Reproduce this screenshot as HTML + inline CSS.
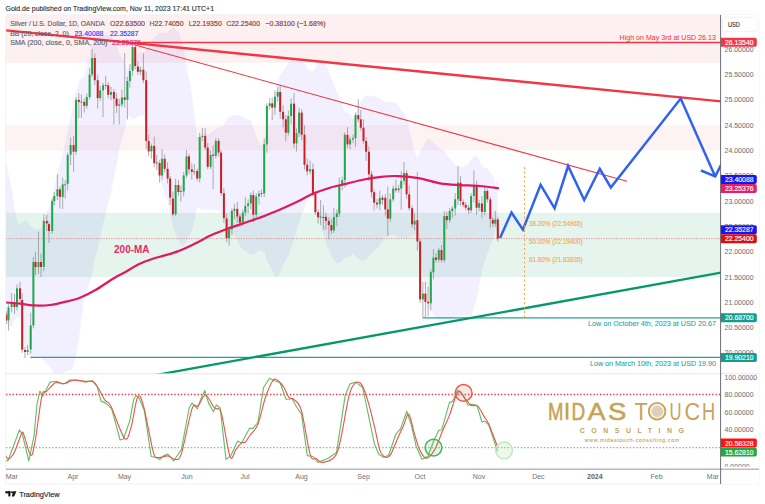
<!DOCTYPE html>
<html><head><meta charset="utf-8"><style>
html,body{margin:0;padding:0;background:#fff;width:765px;height:504px;overflow:hidden}
svg{position:absolute;left:0;top:0;font-family:"Liberation Sans",sans-serif}
</style></head><body>
<svg width="765" height="504" viewBox="0 0 765 504">
<defs><clipPath id="main"><rect x="6" y="15" width="715" height="359"/></clipPath>
<clipPath id="ind"><rect x="6" y="373.5" width="715" height="95"/></clipPath></defs>
<text x="5.5" y="11.3" font-size="7.8" fill="#2a2d35" stroke="#3a3d45" stroke-width="0.15" textLength="208.5" lengthAdjust="spacingAndGlyphs">Gold.de published on TradingView.com, Nov 11, 2023 17:41 UTC+1</text>
<g clip-path="url(#main)">
<rect x="6" y="15" width="715" height="47.8" fill="#fdf0f0"/>
<rect x="6" y="125.2" width="715" height="25.3" fill="#fef3f3"/>
<rect x="6" y="212.8" width="715" height="64.2" fill="#e5f4ed"/>
<polygon points="4,164.1 6.5,164.1 8.5,174.2 11.6,187.7 14.5,208.5 17.0,220.1 20.0,225.0 22.2,222.1 25.0,220.2 27.6,222.1 30.7,226.6 33.4,228.2 35.5,229.3 38.5,229.3 41.0,228.7 43.8,220.2 46.8,212.3 49.0,207.5 52.2,197.1 54.3,186.3 57.4,173.7 59.9,164.1 62.7,153.2 65.2,143.6 67.7,130.1 70.6,115.9 73.6,105.4 76.0,91.1 78.8,82.4 81.4,78.5 84.3,76.3 86.8,66.9 89.6,56.2 92.1,44.4 94.8,41.5 97.7,38.2 100.2,35.8 103.0,35.9 105.7,34.2 108.2,34.7 111.0,35.6 113.9,40.3 116.6,45.6 119.2,53.9 121.9,57.9 124.7,61.7 127.4,68.9 129.9,66.0 132.6,57.3 135.2,54.7 137.9,53.6 140.5,52.1 143.4,52.6 146.2,50.2 148.7,45.0 151.4,41.7 154.2,37.3 156.7,35.2 159.6,32.9 162.1,32.8 164.7,32.8 167.6,32.2 170.1,30.1 172.9,27.5 175.6,29.8 178.4,32.2 180.9,38.3 183.7,47.9 186.5,64.5 189.0,78.9 191.8,94.3 194.3,114.3 197.2,137.3 199.7,136.4 202.4,133.3 205.2,133.6 207.7,133.9 210.6,133.0 213.1,131.5 215.8,128.8 218.6,127.3 221.1,126.9 223.9,124.4 226.6,120.2 229.1,116.8 231.9,115.9 234.4,115.3 237.3,114.8 239.9,116.0 242.8,117.0 245.3,118.2 248.1,119.7 250.8,120.5 253.3,127.6 256.2,135.9 259.0,142.2 261.5,145.2 264.2,142.8 266.9,129.4 269.7,119.8 272.2,110.3 274.9,95.7 277.7,81.9 280.2,75.2 283.1,70.6 285.8,67.7 288.3,63.2 291.1,58.4 294.0,59.9 296.5,60.5 299.1,59.4 301.7,61.2 304.5,63.2 307.2,68.3 310.1,71.2 312.9,71.2 315.4,67.9 318.1,62.1 320.6,61.6 323.4,63.1 325.9,65.4 328.8,70.8 331.4,78.5 333.9,85.1 336.8,91.7 339.3,96.8 342.2,105.3 344.8,112.2 347.5,112.4 350.1,113.5 353.0,119.2 355.5,114.8 358.3,107.3 360.8,101.4 363.5,98.2 366.1,95.5 368.9,95.2 371.6,95.9 374.1,96.4 377.0,97.1 379.8,98.2 382.5,99.9 385.3,101.9 387.8,101.7 390.3,102.6 393.2,102.6 395.9,102.6 398.7,106.8 401.2,109.8 404.0,113.4 406.6,118.2 409.2,129.1 412.1,140.1 414.6,151.5 417.4,158.7 420.1,151.1 422.9,146.8 425.4,141.9 428.1,138.4 430.8,139.5 433.4,142.3 436.0,145.3 438.8,147.6 441.5,149.2 444.3,151.1 446.8,155.2 449.7,158.1 452.3,161.2 455.2,164.4 458.0,166.5 460.5,167.6 463.2,167.1 465.7,165.2 468.6,164.0 471.1,159.3 473.9,155.8 476.6,156.3 479.1,159.4 481.9,166.6 484.8,167.6 487.3,168.8 490.3,172.8 492.8,175.8 495.3,183.6 497.8,180.8 497.8,233.2 495.3,228.1 492.8,240.0 490.3,245.7 487.3,253.8 484.8,260.8 481.9,269.9 479.1,286.3 476.6,299.2 473.9,308.3 471.1,316.2 468.6,316.1 465.7,315.9 463.2,315.6 460.5,315.5 458.0,315.9 455.2,317.1 452.3,318.5 449.7,319.6 446.8,320.4 444.3,321.3 441.5,321.6 438.8,319.0 436.0,317.2 433.4,314.2 430.8,311.1 428.1,305.4 425.4,291.8 422.9,276.0 420.1,259.8 417.4,237.4 414.6,234.5 412.1,236.6 409.2,237.1 406.6,238.7 404.0,237.9 401.2,238.1 398.7,237.5 395.9,236.3 393.2,235.3 390.3,235.0 387.8,237.2 385.3,237.0 382.5,241.1 379.8,245.2 377.0,248.7 374.1,250.7 371.6,252.7 368.9,255.8 366.1,259.3 363.5,260.8 360.8,260.4 358.3,259.0 355.5,256.0 353.0,253.5 350.1,256.7 347.5,257.2 344.8,257.3 342.2,261.1 339.3,263.2 336.8,263.0 333.9,260.2 331.4,256.2 328.8,250.1 325.9,242.6 323.4,233.6 320.6,223.7 318.1,212.1 315.4,198.9 312.9,193.8 310.1,193.7 307.2,199.3 304.5,208.8 301.7,213.8 299.1,222.5 296.5,230.7 294.0,239.3 291.1,248.6 288.3,255.2 285.8,260.0 283.1,264.9 280.2,271.2 277.7,277.2 274.9,276.1 272.2,271.1 269.7,266.1 266.9,260.2 264.2,251.9 261.5,250.5 259.0,250.9 256.2,252.6 253.3,254.8 250.8,254.1 248.1,253.3 245.3,251.5 242.8,249.3 239.9,246.0 237.3,240.6 234.4,236.0 231.9,233.6 229.1,230.9 226.6,223.0 223.9,216.4 221.1,211.9 218.6,210.0 215.8,210.1 213.1,209.2 210.6,209.7 207.7,209.5 205.2,209.5 202.4,209.6 199.7,208.1 197.2,207.5 194.3,220.7 191.8,230.5 189.0,235.9 186.5,240.0 183.7,245.7 180.9,244.8 178.4,239.9 175.6,233.1 172.9,226.7 170.1,213.1 167.6,201.7 164.7,193.2 162.1,185.5 159.6,179.1 156.7,167.6 154.2,157.8 151.4,146.2 148.7,138.1 146.2,125.7 143.4,115.1 140.5,115.0 137.9,116.2 135.2,118.6 132.6,119.5 129.9,116.3 127.4,116.2 124.7,130.5 121.9,138.8 119.2,148.6 116.6,164.9 113.9,178.1 111.0,192.6 108.2,203.2 105.7,213.9 103.0,223.7 100.2,238.4 97.7,249.2 94.8,258.3 92.1,274.0 89.6,282.7 86.8,291.1 84.3,298.3 81.4,318.0 78.8,338.9 76.0,355.3 73.6,366.0 70.6,370.2 67.7,370.4 65.2,372.0 62.7,374.3 59.9,375.7 57.4,378.4 54.3,374.9 52.2,370.4 49.0,365.6 46.8,363.9 43.8,360.8 41.0,356.6 38.5,356.5 35.5,356.5 33.4,356.9 30.7,357.5 27.6,354.3 25.0,345.4 22.2,333.2 20.0,319.2 17.0,317.3 14.5,320.3 11.6,326.2 8.5,326.2 6.5,322.4 4,322.4" fill="#6a5cff" fill-opacity="0.09"/>
<line x1="6" y1="238.6" x2="721" y2="238.6" stroke="#e57a7a" stroke-width="0.8" stroke-dasharray="1.2,1.3"/>
<line x1="422.5" y1="317.8" x2="721" y2="317.8" stroke="#22a39a" stroke-width="1.3"/>
<line x1="30.4" y1="357.3" x2="721" y2="357.3" stroke="#22a39a" stroke-width="1.3"/>
<line x1="135" y1="42.5" x2="721" y2="42.5" stroke="#f23645" stroke-width="1.3"/>
<line x1="6.5" y1="311.5" x2="6.5" y2="323.9" stroke="#8a8a8a" stroke-width="0.7"/>
<rect x="5.5" y="314.4" width="2" height="6.0" fill="#cc1d22"/>
<line x1="8.5" y1="304.4" x2="8.5" y2="330.6" stroke="#8a8a8a" stroke-width="0.7"/>
<rect x="7.5" y="307.6" width="2" height="12.8" fill="#1ea84a"/>
<line x1="11.6" y1="293.0" x2="11.6" y2="312.2" stroke="#8a8a8a" stroke-width="0.7"/>
<rect x="10.6" y="302.5" width="2" height="4.5" fill="#1ea84a"/>
<line x1="14.5" y1="293.8" x2="14.5" y2="314.1" stroke="#8a8a8a" stroke-width="0.7"/>
<rect x="13.5" y="302.5" width="2" height="4.5" fill="#cc1d22"/>
<line x1="17.0" y1="284.5" x2="17.0" y2="310.4" stroke="#8a8a8a" stroke-width="0.7"/>
<rect x="16.0" y="288.3" width="2" height="18.7" fill="#1ea84a"/>
<line x1="20.0" y1="281.8" x2="20.0" y2="303.7" stroke="#8a8a8a" stroke-width="0.7"/>
<rect x="19.0" y="288.3" width="2" height="10.7" fill="#cc1d22"/>
<line x1="22.2" y1="293.2" x2="22.2" y2="352.8" stroke="#8a8a8a" stroke-width="0.7"/>
<rect x="21.2" y="300.0" width="2" height="49.7" fill="#cc1d22"/>
<line x1="25.0" y1="346.7" x2="25.0" y2="358.0" stroke="#8a8a8a" stroke-width="0.7"/>
<rect x="24.0" y="350.0" width="2" height="2.0" fill="#cc1d22"/>
<line x1="27.6" y1="345.0" x2="27.6" y2="355.2" stroke="#8a8a8a" stroke-width="0.7"/>
<rect x="26.6" y="350.0" width="2" height="2.0" fill="#1ea84a"/>
<line x1="30.7" y1="312.7" x2="30.7" y2="353.6" stroke="#8a8a8a" stroke-width="0.7"/>
<rect x="29.7" y="325.5" width="2" height="23.9" fill="#1ea84a"/>
<line x1="33.4" y1="256.9" x2="33.4" y2="328.4" stroke="#8a8a8a" stroke-width="0.7"/>
<rect x="32.4" y="262.0" width="2" height="63.5" fill="#1ea84a"/>
<line x1="35.5" y1="252.0" x2="35.5" y2="275.0" stroke="#8a8a8a" stroke-width="0.7"/>
<rect x="34.5" y="262.0" width="2" height="5.0" fill="#cc1d22"/>
<line x1="38.5" y1="231.8" x2="38.5" y2="274.0" stroke="#8a8a8a" stroke-width="0.7"/>
<rect x="37.5" y="262.0" width="2" height="5.0" fill="#1ea84a"/>
<line x1="41.0" y1="253.4" x2="41.0" y2="277.0" stroke="#8a8a8a" stroke-width="0.7"/>
<rect x="40.0" y="262.0" width="2" height="5.0" fill="#cc1d22"/>
<line x1="43.8" y1="214.3" x2="43.8" y2="271.4" stroke="#8a8a8a" stroke-width="0.7"/>
<rect x="42.8" y="220.9" width="2" height="46.0" fill="#1ea84a"/>
<line x1="46.8" y1="215.0" x2="46.8" y2="231.0" stroke="#8a8a8a" stroke-width="0.7"/>
<rect x="45.8" y="221.0" width="2" height="2.4" fill="#cc1d22"/>
<line x1="49.0" y1="221.6" x2="49.0" y2="243.0" stroke="#8a8a8a" stroke-width="0.7"/>
<rect x="48.0" y="224.2" width="2" height="6.8" fill="#cc1d22"/>
<line x1="52.2" y1="198.3" x2="52.2" y2="233.6" stroke="#8a8a8a" stroke-width="0.7"/>
<rect x="51.2" y="200.8" width="2" height="30.2" fill="#1ea84a"/>
<line x1="54.3" y1="192.0" x2="54.3" y2="205.4" stroke="#8a8a8a" stroke-width="0.7"/>
<rect x="53.3" y="196.0" width="2" height="5.0" fill="#1ea84a"/>
<line x1="57.4" y1="174.0" x2="57.4" y2="200.2" stroke="#8a8a8a" stroke-width="0.7"/>
<rect x="56.4" y="189.3" width="2" height="6.7" fill="#1ea84a"/>
<line x1="59.9" y1="186.5" x2="59.9" y2="208.6" stroke="#8a8a8a" stroke-width="0.7"/>
<rect x="58.9" y="189.3" width="2" height="7.6" fill="#cc1d22"/>
<line x1="62.7" y1="177.5" x2="62.7" y2="209.0" stroke="#8a8a8a" stroke-width="0.7"/>
<rect x="61.7" y="184.3" width="2" height="12.6" fill="#1ea84a"/>
<line x1="65.2" y1="180.2" x2="65.2" y2="198.5" stroke="#8a8a8a" stroke-width="0.7"/>
<rect x="64.2" y="184.3" width="2" height="1.0" fill="#1ea84a"/>
<line x1="67.7" y1="152.5" x2="67.7" y2="190.5" stroke="#8a8a8a" stroke-width="0.7"/>
<rect x="66.7" y="155.0" width="2" height="28.8" fill="#1ea84a"/>
<line x1="70.6" y1="137.5" x2="70.6" y2="165.0" stroke="#8a8a8a" stroke-width="0.7"/>
<rect x="69.6" y="145.0" width="2" height="9.7" fill="#1ea84a"/>
<line x1="73.6" y1="136.1" x2="73.6" y2="171.8" stroke="#8a8a8a" stroke-width="0.7"/>
<rect x="72.6" y="145.0" width="2" height="6.7" fill="#cc1d22"/>
<line x1="76.0" y1="97.1" x2="76.0" y2="154.8" stroke="#8a8a8a" stroke-width="0.7"/>
<rect x="75.0" y="99.8" width="2" height="51.9" fill="#1ea84a"/>
<line x1="78.8" y1="93.0" x2="78.8" y2="118.0" stroke="#8a8a8a" stroke-width="0.7"/>
<rect x="77.8" y="99.8" width="2" height="2.2" fill="#cc1d22"/>
<line x1="81.4" y1="94.5" x2="81.4" y2="117.9" stroke="#8a8a8a" stroke-width="0.7"/>
<rect x="80.4" y="101.5" width="2" height="1.0" fill="#1ea84a"/>
<line x1="84.3" y1="98.5" x2="84.3" y2="112.6" stroke="#8a8a8a" stroke-width="0.7"/>
<rect x="83.3" y="102.0" width="2" height="3.8" fill="#cc1d22"/>
<line x1="86.8" y1="93.4" x2="86.8" y2="108.6" stroke="#8a8a8a" stroke-width="0.7"/>
<rect x="85.8" y="97.0" width="2" height="8.8" fill="#1ea84a"/>
<line x1="89.6" y1="67.8" x2="89.6" y2="99.6" stroke="#8a8a8a" stroke-width="0.7"/>
<rect x="88.6" y="74.7" width="2" height="22.3" fill="#1ea84a"/>
<line x1="92.1" y1="48.9" x2="92.1" y2="76.9" stroke="#8a8a8a" stroke-width="0.7"/>
<rect x="91.1" y="58.0" width="2" height="16.4" fill="#1ea84a"/>
<line x1="94.8" y1="53.6" x2="94.8" y2="85.2" stroke="#8a8a8a" stroke-width="0.7"/>
<rect x="93.8" y="58.0" width="2" height="22.2" fill="#cc1d22"/>
<line x1="97.7" y1="74.7" x2="97.7" y2="108.7" stroke="#8a8a8a" stroke-width="0.7"/>
<rect x="96.7" y="80.2" width="2" height="17.9" fill="#cc1d22"/>
<line x1="100.2" y1="86.1" x2="100.2" y2="100.9" stroke="#8a8a8a" stroke-width="0.7"/>
<rect x="99.2" y="90.3" width="2" height="7.8" fill="#1ea84a"/>
<line x1="103.0" y1="82.6" x2="103.0" y2="117.0" stroke="#8a8a8a" stroke-width="0.7"/>
<rect x="102.0" y="85.3" width="2" height="5.0" fill="#1ea84a"/>
<line x1="105.7" y1="75.7" x2="105.7" y2="89.4" stroke="#8a8a8a" stroke-width="0.7"/>
<rect x="104.7" y="85.0" width="2" height="1.0" fill="#1ea84a"/>
<line x1="108.2" y1="82.3" x2="108.2" y2="98.3" stroke="#8a8a8a" stroke-width="0.7"/>
<rect x="107.2" y="85.3" width="2" height="9.5" fill="#cc1d22"/>
<line x1="111.0" y1="86.6" x2="111.0" y2="100.2" stroke="#8a8a8a" stroke-width="0.7"/>
<rect x="110.0" y="92.0" width="2" height="2.8" fill="#1ea84a"/>
<line x1="113.9" y1="89.1" x2="113.9" y2="124.6" stroke="#8a8a8a" stroke-width="0.7"/>
<rect x="112.9" y="92.0" width="2" height="6.6" fill="#cc1d22"/>
<line x1="116.6" y1="93.1" x2="116.6" y2="113.1" stroke="#8a8a8a" stroke-width="0.7"/>
<rect x="115.6" y="98.6" width="2" height="7.2" fill="#cc1d22"/>
<line x1="119.2" y1="98.8" x2="119.2" y2="124.6" stroke="#8a8a8a" stroke-width="0.7"/>
<rect x="118.2" y="104.5" width="2" height="1.3" fill="#1ea84a"/>
<line x1="121.9" y1="89.6" x2="121.9" y2="107.2" stroke="#8a8a8a" stroke-width="0.7"/>
<rect x="120.9" y="97.5" width="2" height="7.0" fill="#1ea84a"/>
<line x1="124.7" y1="53.0" x2="124.7" y2="107.6" stroke="#8a8a8a" stroke-width="0.7"/>
<rect x="123.7" y="97.5" width="2" height="2.3" fill="#cc1d22"/>
<line x1="127.4" y1="76.8" x2="127.4" y2="119.5" stroke="#8a8a8a" stroke-width="0.7"/>
<rect x="126.4" y="81.0" width="2" height="18.8" fill="#1ea84a"/>
<line x1="129.9" y1="64.2" x2="129.9" y2="87.7" stroke="#8a8a8a" stroke-width="0.7"/>
<rect x="128.9" y="71.0" width="2" height="10.0" fill="#1ea84a"/>
<line x1="132.6" y1="43.0" x2="132.6" y2="75.6" stroke="#8a8a8a" stroke-width="0.7"/>
<rect x="131.6" y="47.1" width="2" height="23.6" fill="#1ea84a"/>
<line x1="135.2" y1="42.6" x2="135.2" y2="69.3" stroke="#8a8a8a" stroke-width="0.7"/>
<rect x="134.2" y="47.1" width="2" height="18.9" fill="#cc1d22"/>
<line x1="137.9" y1="61.5" x2="137.9" y2="74.8" stroke="#8a8a8a" stroke-width="0.7"/>
<rect x="136.9" y="66.5" width="2" height="5.3" fill="#cc1d22"/>
<line x1="140.5" y1="66.9" x2="140.5" y2="75.0" stroke="#8a8a8a" stroke-width="0.7"/>
<rect x="139.5" y="69.7" width="2" height="2.1" fill="#1ea84a"/>
<line x1="143.4" y1="53.4" x2="143.4" y2="83.1" stroke="#8a8a8a" stroke-width="0.7"/>
<rect x="142.4" y="69.7" width="2" height="10.5" fill="#cc1d22"/>
<line x1="146.2" y1="71.5" x2="146.2" y2="149.3" stroke="#8a8a8a" stroke-width="0.7"/>
<rect x="145.2" y="80.2" width="2" height="60.7" fill="#cc1d22"/>
<line x1="148.7" y1="134.7" x2="148.7" y2="156.4" stroke="#8a8a8a" stroke-width="0.7"/>
<rect x="147.7" y="140.9" width="2" height="10.5" fill="#cc1d22"/>
<line x1="151.4" y1="143.4" x2="151.4" y2="158.7" stroke="#8a8a8a" stroke-width="0.7"/>
<rect x="150.4" y="145.9" width="2" height="5.5" fill="#1ea84a"/>
<line x1="154.2" y1="136.6" x2="154.2" y2="167.3" stroke="#8a8a8a" stroke-width="0.7"/>
<rect x="153.2" y="145.9" width="2" height="17.2" fill="#cc1d22"/>
<line x1="156.7" y1="155.0" x2="156.7" y2="170.0" stroke="#8a8a8a" stroke-width="0.7"/>
<rect x="155.7" y="162.5" width="2" height="1.0" fill="#1ea84a"/>
<line x1="159.6" y1="160.4" x2="159.6" y2="182.5" stroke="#8a8a8a" stroke-width="0.7"/>
<rect x="158.6" y="163.0" width="2" height="12.5" fill="#cc1d22"/>
<line x1="162.1" y1="149.4" x2="162.1" y2="179.6" stroke="#8a8a8a" stroke-width="0.7"/>
<rect x="161.1" y="158.8" width="2" height="16.7" fill="#1ea84a"/>
<line x1="164.7" y1="154.3" x2="164.7" y2="172.0" stroke="#8a8a8a" stroke-width="0.7"/>
<rect x="163.7" y="158.8" width="2" height="10.0" fill="#cc1d22"/>
<line x1="167.6" y1="162.0" x2="167.6" y2="183.5" stroke="#8a8a8a" stroke-width="0.7"/>
<rect x="166.6" y="168.8" width="2" height="9.7" fill="#cc1d22"/>
<line x1="170.1" y1="175.9" x2="170.1" y2="205.0" stroke="#8a8a8a" stroke-width="0.7"/>
<rect x="169.1" y="178.5" width="2" height="19.2" fill="#cc1d22"/>
<line x1="172.9" y1="191.7" x2="172.9" y2="216.0" stroke="#8a8a8a" stroke-width="0.7"/>
<rect x="171.9" y="198.6" width="2" height="15.7" fill="#cc1d22"/>
<line x1="175.6" y1="178.9" x2="175.6" y2="216.0" stroke="#8a8a8a" stroke-width="0.7"/>
<rect x="174.6" y="185.0" width="2" height="29.3" fill="#1ea84a"/>
<line x1="178.4" y1="179.9" x2="178.4" y2="195.7" stroke="#8a8a8a" stroke-width="0.7"/>
<rect x="177.4" y="185.0" width="2" height="7.0" fill="#cc1d22"/>
<line x1="180.9" y1="185.8" x2="180.9" y2="201.5" stroke="#8a8a8a" stroke-width="0.7"/>
<rect x="179.9" y="191.0" width="2" height="1.0" fill="#1ea84a"/>
<line x1="183.7" y1="171.9" x2="183.7" y2="196.4" stroke="#8a8a8a" stroke-width="0.7"/>
<rect x="182.7" y="175.5" width="2" height="16.0" fill="#1ea84a"/>
<line x1="186.5" y1="150.2" x2="186.5" y2="178.0" stroke="#8a8a8a" stroke-width="0.7"/>
<rect x="185.5" y="156.4" width="2" height="19.1" fill="#1ea84a"/>
<line x1="189.0" y1="153.8" x2="189.0" y2="174.4" stroke="#8a8a8a" stroke-width="0.7"/>
<rect x="188.0" y="156.4" width="2" height="12.9" fill="#cc1d22"/>
<line x1="191.8" y1="163.3" x2="191.8" y2="179.6" stroke="#8a8a8a" stroke-width="0.7"/>
<rect x="190.8" y="169.3" width="2" height="2.5" fill="#cc1d22"/>
<line x1="194.3" y1="164.0" x2="194.3" y2="175.0" stroke="#8a8a8a" stroke-width="0.7"/>
<rect x="193.3" y="171.3" width="2" height="1.0" fill="#1ea84a"/>
<line x1="197.2" y1="168.5" x2="197.2" y2="181.1" stroke="#8a8a8a" stroke-width="0.7"/>
<rect x="196.2" y="171.0" width="2" height="7.5" fill="#cc1d22"/>
<line x1="199.7" y1="132.8" x2="199.7" y2="182.8" stroke="#8a8a8a" stroke-width="0.7"/>
<rect x="198.7" y="137.0" width="2" height="41.5" fill="#1ea84a"/>
<line x1="202.4" y1="128.0" x2="202.4" y2="140.7" stroke="#8a8a8a" stroke-width="0.7"/>
<rect x="201.4" y="136.0" width="2" height="1.0" fill="#1ea84a"/>
<line x1="205.2" y1="127.9" x2="205.2" y2="150.1" stroke="#8a8a8a" stroke-width="0.7"/>
<rect x="204.2" y="135.9" width="2" height="11.7" fill="#cc1d22"/>
<line x1="207.7" y1="143.3" x2="207.7" y2="169.3" stroke="#8a8a8a" stroke-width="0.7"/>
<rect x="206.7" y="147.6" width="2" height="19.2" fill="#cc1d22"/>
<line x1="210.6" y1="150.2" x2="210.6" y2="169.3" stroke="#8a8a8a" stroke-width="0.7"/>
<rect x="209.6" y="155.0" width="2" height="11.8" fill="#1ea84a"/>
<line x1="213.1" y1="145.4" x2="213.1" y2="189.0" stroke="#8a8a8a" stroke-width="0.7"/>
<rect x="212.1" y="154.7" width="2" height="1.2" fill="#cc1d22"/>
<line x1="215.8" y1="138.4" x2="215.8" y2="158.5" stroke="#8a8a8a" stroke-width="0.7"/>
<rect x="214.8" y="140.9" width="2" height="15.0" fill="#1ea84a"/>
<line x1="218.6" y1="138.4" x2="218.6" y2="156.9" stroke="#8a8a8a" stroke-width="0.7"/>
<rect x="217.6" y="140.9" width="2" height="11.7" fill="#cc1d22"/>
<line x1="221.1" y1="150.0" x2="221.1" y2="195.7" stroke="#8a8a8a" stroke-width="0.7"/>
<rect x="220.1" y="152.6" width="2" height="40.6" fill="#cc1d22"/>
<line x1="223.9" y1="188.0" x2="223.9" y2="222.8" stroke="#8a8a8a" stroke-width="0.7"/>
<rect x="222.9" y="193.2" width="2" height="24.9" fill="#cc1d22"/>
<line x1="226.6" y1="213.7" x2="226.6" y2="242.0" stroke="#8a8a8a" stroke-width="0.7"/>
<rect x="225.6" y="218.5" width="2" height="19.7" fill="#cc1d22"/>
<line x1="229.1" y1="226.6" x2="229.1" y2="245.5" stroke="#8a8a8a" stroke-width="0.7"/>
<rect x="228.1" y="229.3" width="2" height="8.9" fill="#1ea84a"/>
<line x1="231.9" y1="208.4" x2="231.9" y2="235.2" stroke="#8a8a8a" stroke-width="0.7"/>
<rect x="230.9" y="211.0" width="2" height="18.3" fill="#1ea84a"/>
<line x1="234.4" y1="203.6" x2="234.4" y2="219.2" stroke="#8a8a8a" stroke-width="0.7"/>
<rect x="233.4" y="208.8" width="2" height="2.2" fill="#1ea84a"/>
<line x1="237.3" y1="201.8" x2="237.3" y2="222.7" stroke="#8a8a8a" stroke-width="0.7"/>
<rect x="236.3" y="208.8" width="2" height="7.7" fill="#cc1d22"/>
<line x1="239.9" y1="213.9" x2="239.9" y2="227.1" stroke="#8a8a8a" stroke-width="0.7"/>
<rect x="238.9" y="216.5" width="2" height="6.1" fill="#cc1d22"/>
<line x1="242.8" y1="209.6" x2="242.8" y2="225.9" stroke="#8a8a8a" stroke-width="0.7"/>
<rect x="241.8" y="212.6" width="2" height="10.0" fill="#1ea84a"/>
<line x1="245.3" y1="196.9" x2="245.3" y2="216.1" stroke="#8a8a8a" stroke-width="0.7"/>
<rect x="244.3" y="206.0" width="2" height="6.6" fill="#1ea84a"/>
<line x1="248.1" y1="199.5" x2="248.1" y2="213.2" stroke="#8a8a8a" stroke-width="0.7"/>
<rect x="247.1" y="203.4" width="2" height="2.6" fill="#1ea84a"/>
<line x1="250.8" y1="192.4" x2="250.8" y2="209.0" stroke="#8a8a8a" stroke-width="0.7"/>
<rect x="249.8" y="195.0" width="2" height="8.4" fill="#1ea84a"/>
<line x1="253.3" y1="190.4" x2="253.3" y2="221.6" stroke="#8a8a8a" stroke-width="0.7"/>
<rect x="252.3" y="195.0" width="2" height="19.8" fill="#cc1d22"/>
<line x1="256.2" y1="193.1" x2="256.2" y2="217.7" stroke="#8a8a8a" stroke-width="0.7"/>
<rect x="255.2" y="196.4" width="2" height="18.4" fill="#1ea84a"/>
<line x1="259.0" y1="190.4" x2="259.0" y2="204.7" stroke="#8a8a8a" stroke-width="0.7"/>
<rect x="258.0" y="193.7" width="2" height="2.7" fill="#1ea84a"/>
<line x1="261.5" y1="189.2" x2="261.5" y2="197.0" stroke="#8a8a8a" stroke-width="0.7"/>
<rect x="260.5" y="193.0" width="2" height="1.0" fill="#1ea84a"/>
<line x1="264.2" y1="138.4" x2="264.2" y2="197.0" stroke="#8a8a8a" stroke-width="0.7"/>
<rect x="263.2" y="144.2" width="2" height="49.3" fill="#1ea84a"/>
<line x1="266.9" y1="103.4" x2="266.9" y2="152.6" stroke="#8a8a8a" stroke-width="0.7"/>
<rect x="265.9" y="105.9" width="2" height="38.5" fill="#1ea84a"/>
<line x1="269.7" y1="98.2" x2="269.7" y2="109.4" stroke="#8a8a8a" stroke-width="0.7"/>
<rect x="268.7" y="103.4" width="2" height="2.5" fill="#1ea84a"/>
<line x1="272.2" y1="97.7" x2="272.2" y2="120.0" stroke="#8a8a8a" stroke-width="0.7"/>
<rect x="271.2" y="103.4" width="2" height="4.2" fill="#cc1d22"/>
<line x1="274.9" y1="90.4" x2="274.9" y2="114.9" stroke="#8a8a8a" stroke-width="0.7"/>
<rect x="273.9" y="96.7" width="2" height="10.9" fill="#1ea84a"/>
<line x1="277.7" y1="87.0" x2="277.7" y2="101.2" stroke="#8a8a8a" stroke-width="0.7"/>
<rect x="276.7" y="92.0" width="2" height="4.7" fill="#1ea84a"/>
<line x1="280.2" y1="85.0" x2="280.2" y2="118.9" stroke="#8a8a8a" stroke-width="0.7"/>
<rect x="279.2" y="92.0" width="2" height="19.8" fill="#cc1d22"/>
<line x1="283.1" y1="105.2" x2="283.1" y2="127.5" stroke="#8a8a8a" stroke-width="0.7"/>
<rect x="282.1" y="111.8" width="2" height="7.5" fill="#cc1d22"/>
<line x1="285.8" y1="115.3" x2="285.8" y2="141.3" stroke="#8a8a8a" stroke-width="0.7"/>
<rect x="284.8" y="119.3" width="2" height="13.4" fill="#cc1d22"/>
<line x1="288.3" y1="110.2" x2="288.3" y2="135.6" stroke="#8a8a8a" stroke-width="0.7"/>
<rect x="287.3" y="116.0" width="2" height="16.7" fill="#1ea84a"/>
<line x1="291.1" y1="98.4" x2="291.1" y2="124.2" stroke="#8a8a8a" stroke-width="0.7"/>
<rect x="290.1" y="103.7" width="2" height="12.3" fill="#1ea84a"/>
<line x1="294.0" y1="93.0" x2="294.0" y2="148.3" stroke="#8a8a8a" stroke-width="0.7"/>
<rect x="293.0" y="103.7" width="2" height="39.8" fill="#cc1d22"/>
<line x1="296.5" y1="128.5" x2="296.5" y2="151.5" stroke="#8a8a8a" stroke-width="0.7"/>
<rect x="295.5" y="133.2" width="2" height="10.3" fill="#1ea84a"/>
<line x1="299.1" y1="107.6" x2="299.1" y2="137.0" stroke="#8a8a8a" stroke-width="0.7"/>
<rect x="298.1" y="112.6" width="2" height="20.6" fill="#1ea84a"/>
<line x1="301.7" y1="109.2" x2="301.7" y2="140.3" stroke="#8a8a8a" stroke-width="0.7"/>
<rect x="300.7" y="112.6" width="2" height="22.2" fill="#cc1d22"/>
<line x1="304.5" y1="125.3" x2="304.5" y2="169.5" stroke="#8a8a8a" stroke-width="0.7"/>
<rect x="303.5" y="134.8" width="2" height="29.9" fill="#cc1d22"/>
<line x1="307.2" y1="158.4" x2="307.2" y2="175.4" stroke="#8a8a8a" stroke-width="0.7"/>
<rect x="306.2" y="164.7" width="2" height="6.7" fill="#cc1d22"/>
<line x1="310.1" y1="160.5" x2="310.1" y2="174.0" stroke="#8a8a8a" stroke-width="0.7"/>
<rect x="309.1" y="169.3" width="2" height="2.1" fill="#1ea84a"/>
<line x1="312.9" y1="163.4" x2="312.9" y2="196.3" stroke="#8a8a8a" stroke-width="0.7"/>
<rect x="311.9" y="169.3" width="2" height="24.5" fill="#cc1d22"/>
<line x1="315.4" y1="190.8" x2="315.4" y2="215.1" stroke="#8a8a8a" stroke-width="0.7"/>
<rect x="314.4" y="193.8" width="2" height="18.4" fill="#cc1d22"/>
<line x1="318.1" y1="209.4" x2="318.1" y2="223.6" stroke="#8a8a8a" stroke-width="0.7"/>
<rect x="317.1" y="212.2" width="2" height="5.1" fill="#cc1d22"/>
<line x1="320.6" y1="200.0" x2="320.6" y2="225.0" stroke="#8a8a8a" stroke-width="0.7"/>
<rect x="319.6" y="216.5" width="2" height="1.0" fill="#1ea84a"/>
<line x1="323.4" y1="205.0" x2="323.4" y2="230.0" stroke="#8a8a8a" stroke-width="0.7"/>
<rect x="322.4" y="217.0" width="2" height="1.0" fill="#cc1d22"/>
<line x1="325.9" y1="213.0" x2="325.9" y2="229.8" stroke="#8a8a8a" stroke-width="0.7"/>
<rect x="324.9" y="216.8" width="2" height="4.1" fill="#cc1d22"/>
<line x1="328.8" y1="217.2" x2="328.8" y2="239.3" stroke="#8a8a8a" stroke-width="0.7"/>
<rect x="327.8" y="220.9" width="2" height="4.2" fill="#cc1d22"/>
<line x1="331.4" y1="219.0" x2="331.4" y2="234.3" stroke="#8a8a8a" stroke-width="0.7"/>
<rect x="330.4" y="225.1" width="2" height="5.4" fill="#cc1d22"/>
<line x1="333.9" y1="208.1" x2="333.9" y2="233.0" stroke="#8a8a8a" stroke-width="0.7"/>
<rect x="332.9" y="217.1" width="2" height="13.4" fill="#1ea84a"/>
<line x1="336.8" y1="209.7" x2="336.8" y2="226.2" stroke="#8a8a8a" stroke-width="0.7"/>
<rect x="335.8" y="213.4" width="2" height="3.7" fill="#1ea84a"/>
<line x1="339.3" y1="177.8" x2="339.3" y2="217.0" stroke="#8a8a8a" stroke-width="0.7"/>
<rect x="338.3" y="185.5" width="2" height="28.1" fill="#1ea84a"/>
<line x1="342.2" y1="176.7" x2="342.2" y2="190.3" stroke="#8a8a8a" stroke-width="0.7"/>
<rect x="341.2" y="180.1" width="2" height="5.4" fill="#1ea84a"/>
<line x1="344.8" y1="132.3" x2="344.8" y2="187.3" stroke="#8a8a8a" stroke-width="0.7"/>
<rect x="343.8" y="134.8" width="2" height="45.3" fill="#1ea84a"/>
<line x1="347.5" y1="127.1" x2="347.5" y2="148.2" stroke="#8a8a8a" stroke-width="0.7"/>
<rect x="346.5" y="134.8" width="2" height="9.6" fill="#cc1d22"/>
<line x1="350.1" y1="136.5" x2="350.1" y2="149.5" stroke="#8a8a8a" stroke-width="0.7"/>
<rect x="349.1" y="139.4" width="2" height="5.0" fill="#1ea84a"/>
<line x1="353.0" y1="134.7" x2="353.0" y2="143.0" stroke="#8a8a8a" stroke-width="0.7"/>
<rect x="352.0" y="138.2" width="2" height="1.2" fill="#1ea84a"/>
<line x1="355.5" y1="112.5" x2="355.5" y2="146.7" stroke="#8a8a8a" stroke-width="0.7"/>
<rect x="354.5" y="115.1" width="2" height="23.1" fill="#1ea84a"/>
<line x1="358.3" y1="99.2" x2="358.3" y2="122.4" stroke="#8a8a8a" stroke-width="0.7"/>
<rect x="357.3" y="115.1" width="2" height="4.2" fill="#cc1d22"/>
<line x1="360.8" y1="110.0" x2="360.8" y2="130.6" stroke="#8a8a8a" stroke-width="0.7"/>
<rect x="359.8" y="119.3" width="2" height="8.4" fill="#cc1d22"/>
<line x1="363.5" y1="119.4" x2="363.5" y2="143.7" stroke="#8a8a8a" stroke-width="0.7"/>
<rect x="362.5" y="127.7" width="2" height="13.3" fill="#cc1d22"/>
<line x1="366.1" y1="137.3" x2="366.1" y2="160.9" stroke="#8a8a8a" stroke-width="0.7"/>
<rect x="365.1" y="141.0" width="2" height="10.7" fill="#cc1d22"/>
<line x1="368.9" y1="146.6" x2="368.9" y2="180.8" stroke="#8a8a8a" stroke-width="0.7"/>
<rect x="367.9" y="151.7" width="2" height="22.6" fill="#cc1d22"/>
<line x1="371.6" y1="171.0" x2="371.6" y2="197.6" stroke="#8a8a8a" stroke-width="0.7"/>
<rect x="370.6" y="174.3" width="2" height="17.9" fill="#cc1d22"/>
<line x1="374.1" y1="189.5" x2="374.1" y2="210.6" stroke="#8a8a8a" stroke-width="0.7"/>
<rect x="373.1" y="192.2" width="2" height="10.5" fill="#cc1d22"/>
<line x1="377.0" y1="199.0" x2="377.0" y2="208.5" stroke="#8a8a8a" stroke-width="0.7"/>
<rect x="376.0" y="202.7" width="2" height="1.7" fill="#cc1d22"/>
<line x1="379.8" y1="190.7" x2="379.8" y2="210.3" stroke="#8a8a8a" stroke-width="0.7"/>
<rect x="378.8" y="197.7" width="2" height="6.7" fill="#1ea84a"/>
<line x1="382.5" y1="195.0" x2="382.5" y2="204.6" stroke="#8a8a8a" stroke-width="0.7"/>
<rect x="381.5" y="197.7" width="2" height="2.2" fill="#cc1d22"/>
<line x1="385.3" y1="194.0" x2="385.3" y2="215.4" stroke="#8a8a8a" stroke-width="0.7"/>
<rect x="384.3" y="197.7" width="2" height="11.7" fill="#cc1d22"/>
<line x1="387.8" y1="186.6" x2="387.8" y2="235.7" stroke="#8a8a8a" stroke-width="0.7"/>
<rect x="386.8" y="209.4" width="2" height="9.2" fill="#cc1d22"/>
<line x1="390.3" y1="193.5" x2="390.3" y2="221.8" stroke="#8a8a8a" stroke-width="0.7"/>
<rect x="389.3" y="199.4" width="2" height="19.2" fill="#1ea84a"/>
<line x1="393.2" y1="185.6" x2="393.2" y2="201.9" stroke="#8a8a8a" stroke-width="0.7"/>
<rect x="392.2" y="188.5" width="2" height="10.9" fill="#1ea84a"/>
<line x1="395.9" y1="179.7" x2="395.9" y2="192.7" stroke="#8a8a8a" stroke-width="0.7"/>
<rect x="394.9" y="188.5" width="2" height="1.7" fill="#cc1d22"/>
<line x1="398.7" y1="184.7" x2="398.7" y2="192.7" stroke="#8a8a8a" stroke-width="0.7"/>
<rect x="397.7" y="188.5" width="2" height="1.7" fill="#1ea84a"/>
<line x1="401.2" y1="171.4" x2="401.2" y2="209.8" stroke="#8a8a8a" stroke-width="0.7"/>
<rect x="400.2" y="181.0" width="2" height="7.5" fill="#1ea84a"/>
<line x1="404.0" y1="162.0" x2="404.0" y2="184.7" stroke="#8a8a8a" stroke-width="0.7"/>
<rect x="403.0" y="173.1" width="2" height="7.9" fill="#1ea84a"/>
<line x1="406.6" y1="170.0" x2="406.6" y2="198.8" stroke="#8a8a8a" stroke-width="0.7"/>
<rect x="405.6" y="173.1" width="2" height="21.2" fill="#cc1d22"/>
<line x1="409.2" y1="185.4" x2="409.2" y2="210.7" stroke="#8a8a8a" stroke-width="0.7"/>
<rect x="408.2" y="194.3" width="2" height="13.9" fill="#cc1d22"/>
<line x1="412.1" y1="205.6" x2="412.1" y2="227.7" stroke="#8a8a8a" stroke-width="0.7"/>
<rect x="411.1" y="208.2" width="2" height="16.1" fill="#cc1d22"/>
<line x1="414.6" y1="213.4" x2="414.6" y2="230.2" stroke="#8a8a8a" stroke-width="0.7"/>
<rect x="413.6" y="220.9" width="2" height="3.5" fill="#1ea84a"/>
<line x1="417.4" y1="172.3" x2="417.4" y2="250.7" stroke="#8a8a8a" stroke-width="0.7"/>
<rect x="416.4" y="220.2" width="2" height="21.2" fill="#cc1d22"/>
<line x1="420.1" y1="238.8" x2="420.1" y2="302.8" stroke="#8a8a8a" stroke-width="0.7"/>
<rect x="419.1" y="241.4" width="2" height="58.0" fill="#cc1d22"/>
<line x1="422.9" y1="281.9" x2="422.9" y2="317.0" stroke="#8a8a8a" stroke-width="0.7"/>
<rect x="421.9" y="293.6" width="2" height="5.8" fill="#1ea84a"/>
<line x1="425.4" y1="282.0" x2="425.4" y2="317.0" stroke="#8a8a8a" stroke-width="0.7"/>
<rect x="424.4" y="293.6" width="2" height="8.3" fill="#cc1d22"/>
<line x1="428.1" y1="287.0" x2="428.1" y2="316.0" stroke="#8a8a8a" stroke-width="0.7"/>
<rect x="427.1" y="301.8" width="2" height="1.5" fill="#cc1d22"/>
<line x1="430.8" y1="269.4" x2="430.8" y2="310.2" stroke="#8a8a8a" stroke-width="0.7"/>
<rect x="429.8" y="272.1" width="2" height="31.2" fill="#1ea84a"/>
<line x1="433.4" y1="249.2" x2="433.4" y2="279.2" stroke="#8a8a8a" stroke-width="0.7"/>
<rect x="432.4" y="257.6" width="2" height="14.6" fill="#1ea84a"/>
<line x1="436.0" y1="252.7" x2="436.0" y2="262.5" stroke="#8a8a8a" stroke-width="0.7"/>
<rect x="435.0" y="257.6" width="2" height="2.2" fill="#cc1d22"/>
<line x1="438.8" y1="247.6" x2="438.8" y2="262.4" stroke="#8a8a8a" stroke-width="0.7"/>
<rect x="437.8" y="250.1" width="2" height="9.7" fill="#1ea84a"/>
<line x1="441.5" y1="245.0" x2="441.5" y2="262.6" stroke="#8a8a8a" stroke-width="0.7"/>
<rect x="440.5" y="250.1" width="2" height="10.0" fill="#cc1d22"/>
<line x1="444.3" y1="211.2" x2="444.3" y2="262.9" stroke="#8a8a8a" stroke-width="0.7"/>
<rect x="443.3" y="216.0" width="2" height="44.1" fill="#1ea84a"/>
<line x1="446.8" y1="211.7" x2="446.8" y2="229.2" stroke="#8a8a8a" stroke-width="0.7"/>
<rect x="445.8" y="216.0" width="2" height="4.2" fill="#cc1d22"/>
<line x1="449.7" y1="208.0" x2="449.7" y2="222.9" stroke="#8a8a8a" stroke-width="0.7"/>
<rect x="448.7" y="211.0" width="2" height="9.2" fill="#1ea84a"/>
<line x1="452.3" y1="205.9" x2="452.3" y2="218.0" stroke="#8a8a8a" stroke-width="0.7"/>
<rect x="451.3" y="208.5" width="2" height="2.5" fill="#1ea84a"/>
<line x1="455.2" y1="193.2" x2="455.2" y2="215.7" stroke="#8a8a8a" stroke-width="0.7"/>
<rect x="454.2" y="199.3" width="2" height="9.2" fill="#1ea84a"/>
<line x1="458.0" y1="165.9" x2="458.0" y2="205.0" stroke="#8a8a8a" stroke-width="0.7"/>
<rect x="457.0" y="182.6" width="2" height="16.7" fill="#1ea84a"/>
<line x1="460.5" y1="176.0" x2="460.5" y2="205.7" stroke="#8a8a8a" stroke-width="0.7"/>
<rect x="459.5" y="182.6" width="2" height="18.4" fill="#cc1d22"/>
<line x1="463.2" y1="199.6" x2="463.2" y2="207.3" stroke="#8a8a8a" stroke-width="0.7"/>
<rect x="462.2" y="202.2" width="2" height="2.6" fill="#cc1d22"/>
<line x1="465.7" y1="201.9" x2="465.7" y2="210.4" stroke="#8a8a8a" stroke-width="0.7"/>
<rect x="464.7" y="204.8" width="2" height="2.9" fill="#cc1d22"/>
<line x1="468.6" y1="204.8" x2="468.6" y2="214.0" stroke="#8a8a8a" stroke-width="0.7"/>
<rect x="467.6" y="207.7" width="2" height="2.5" fill="#cc1d22"/>
<line x1="471.1" y1="193.2" x2="471.1" y2="212.8" stroke="#8a8a8a" stroke-width="0.7"/>
<rect x="470.1" y="196.0" width="2" height="14.2" fill="#1ea84a"/>
<line x1="473.9" y1="170.4" x2="473.9" y2="202.4" stroke="#8a8a8a" stroke-width="0.7"/>
<rect x="472.9" y="185.1" width="2" height="10.9" fill="#1ea84a"/>
<line x1="476.6" y1="180.7" x2="476.6" y2="214.9" stroke="#8a8a8a" stroke-width="0.7"/>
<rect x="475.6" y="185.1" width="2" height="22.6" fill="#cc1d22"/>
<line x1="479.1" y1="199.7" x2="479.1" y2="211.6" stroke="#8a8a8a" stroke-width="0.7"/>
<rect x="478.1" y="203.2" width="2" height="4.5" fill="#1ea84a"/>
<line x1="481.9" y1="196.2" x2="481.9" y2="218.2" stroke="#8a8a8a" stroke-width="0.7"/>
<rect x="480.9" y="203.5" width="2" height="8.4" fill="#cc1d22"/>
<line x1="484.8" y1="185.9" x2="484.8" y2="215.2" stroke="#8a8a8a" stroke-width="0.7"/>
<rect x="483.8" y="191.0" width="2" height="20.9" fill="#1ea84a"/>
<line x1="487.3" y1="188.5" x2="487.3" y2="202.7" stroke="#8a8a8a" stroke-width="0.7"/>
<rect x="486.3" y="191.0" width="2" height="8.3" fill="#cc1d22"/>
<line x1="490.3" y1="196.7" x2="490.3" y2="227.7" stroke="#8a8a8a" stroke-width="0.7"/>
<rect x="489.3" y="199.3" width="2" height="19.6" fill="#cc1d22"/>
<line x1="492.8" y1="217.1" x2="492.8" y2="226.8" stroke="#8a8a8a" stroke-width="0.7"/>
<rect x="491.8" y="219.9" width="2" height="3.7" fill="#cc1d22"/>
<line x1="495.3" y1="210.9" x2="495.3" y2="226.6" stroke="#8a8a8a" stroke-width="0.7"/>
<rect x="494.3" y="219.4" width="2" height="4.2" fill="#1ea84a"/>
<line x1="497.8" y1="216.8" x2="497.8" y2="241.7" stroke="#8a8a8a" stroke-width="0.7"/>
<rect x="496.8" y="219.4" width="2" height="19.2" fill="#cc1d22"/>
<path d="M6,302.5 C8.3,302.7 15.5,303.1 20,303.6 C24.5,304.1 28.0,305.2 33,305.4 C38.0,305.6 43.8,305.8 50,305 C56.2,304.2 65.0,301.9 70,300.7 C75.0,299.5 75.7,299.6 80,297.8 C84.3,296.0 90.6,292.9 95.9,289.8 C101.2,286.8 106.4,282.7 111.7,279.5 C117.0,276.3 123.1,273.4 127.6,270.8 C132.1,268.2 134.7,266.1 138.7,264.2 C142.7,262.3 147.8,260.4 151.4,259.2 C155.0,257.9 155.7,258.0 160,256.7 C164.3,255.4 171.3,253.7 177,251.6 C182.7,249.5 188.3,246.8 194,244.1 C199.7,241.4 205.3,237.9 211,235.3 C216.7,232.7 222.3,230.6 228,228.5 C233.7,226.4 239.3,224.6 245,222.7 C250.7,220.8 256.3,219.0 262,216.9 C267.7,214.8 273.3,212.5 279,210.1 C284.7,207.7 290.3,205.0 296,202.3 C301.7,199.6 307.3,196.2 313,193.8 C318.7,191.4 324.3,189.4 330,187.7 C335.7,186.0 341.3,185.0 347,183.6 C352.7,182.2 358.3,180.6 364,179.5 C369.7,178.4 375.3,177.4 381,176.8 C386.7,176.2 391.5,175.8 398,176.1 C404.5,176.4 413.0,177.2 420,178.4 C427.0,179.6 433.3,182.3 440,183.4 C446.7,184.5 453.3,184.7 460,185.1 C466.7,185.5 473.7,185.5 480,186 C486.3,186.5 495.0,187.8 498,188.2" fill="none" stroke="#e0195e" stroke-width="2.2" stroke-linecap="round"/>
<line x1="6" y1="30.4" x2="721" y2="101.4" stroke="#f23645" stroke-width="2.4"/>
<line x1="135" y1="45" x2="627" y2="181.3" stroke="#f23645" stroke-width="1.05"/>
<line x1="150" y1="376.1" x2="721" y2="272.6" stroke="#07986a" stroke-width="2.3"/>
<polyline points="500,237.9 511.5,212.5 522.9,229.6 540.6,184.8 554.6,208.3 568.1,166 584.2,200 599.8,168.8 610.8,187.5 680.7,98.6 715.2,176.4" fill="none" stroke="#2f62f0" stroke-width="2.5" stroke-linejoin="miter"/>
<polyline points="701,170.5 715.2,176.4 726,155" fill="none" stroke="#2f62f0" stroke-width="2.5"/>
<line x1="524.5" y1="167" x2="524.5" y2="317" stroke="#f5a640" stroke-width="1" stroke-dasharray="2,2.5"/>
<text x="529.1" y="226.20000000000002" font-size="7" fill="#f5a94a" stroke="#f5a94a" stroke-width="0.12" textLength="53.6" lengthAdjust="spacingAndGlyphs">38.20% (22.54965)</text>
<text x="529.1" y="244.1" font-size="7" fill="#f5a94a" stroke="#f5a94a" stroke-width="0.12" textLength="53.6" lengthAdjust="spacingAndGlyphs">50.00% (22.19400)</text>
<text x="529.1" y="262.0" font-size="7" fill="#f5a94a" stroke="#f5a94a" stroke-width="0.12" textLength="53.6" lengthAdjust="spacingAndGlyphs">61.80% (21.83835)</text>
<text x="114.1" y="253" font-size="10" font-weight="bold" fill="#e52a62" textLength="35.3" lengthAdjust="spacingAndGlyphs">200-MA</text>
<text x="619.6" y="40.2" font-size="7.7" fill="#f23645" stroke="#f23645" stroke-width="0.04" textLength="96.3" lengthAdjust="spacingAndGlyphs">High on May 3rd at USD 26.13</text>
<text x="588" y="326.2" font-size="7.7" fill="#22a39a" stroke="#22a39a" stroke-width="0.06" textLength="128.1" lengthAdjust="spacingAndGlyphs">Low on October 4th, 2023 at USD 20.67</text>
<text x="589.9" y="365.8" font-size="7.7" fill="#22a39a" stroke="#22a39a" stroke-width="0.06" textLength="126.2" lengthAdjust="spacingAndGlyphs">Low on March 10th, 2023 at USD 19.90</text>
</g>
<g clip-path="url(#ind)">
<text x="548.1" y="419.6" font-size="24.7" fill="#c6a456" stroke="#c6a456" stroke-width="0.6" textLength="15.4" lengthAdjust="spacingAndGlyphs">M</text>
<text x="571.4" y="419.6" font-size="24.7" fill="#c6a456" stroke="#c6a456" stroke-width="0.6" textLength="13.7" lengthAdjust="spacingAndGlyphs">D</text>
<text x="587.7" y="419.6" font-size="24.7" fill="#c6a456" stroke="#c6a456" stroke-width="0.6" textLength="17.7" lengthAdjust="spacingAndGlyphs">A</text>
<text x="608" y="419.6" font-size="24.7" fill="#c6a456" stroke="#c6a456" stroke-width="0.6" textLength="18.3" lengthAdjust="spacingAndGlyphs">S</text>
<rect x="565.6" y="402.7" width="2.8" height="16.9" fill="#c6a456"/>
<text x="634.6" y="419.6" font-size="23.8" fill="#c6a456" stroke="#c6a456" stroke-width="0.05" textLength="13.2" lengthAdjust="spacingAndGlyphs">T</text>
<text x="669.5" y="419.6" font-size="23.8" fill="#c6a456" stroke="#c6a456" stroke-width="0.05" textLength="12.0" lengthAdjust="spacingAndGlyphs">U</text>
<text x="684.5" y="419.6" font-size="23.8" fill="#c6a456" stroke="#c6a456" stroke-width="0.05" textLength="15.7" lengthAdjust="spacingAndGlyphs">C</text>
<text x="702" y="419.6" font-size="23.8" fill="#c6a456" stroke="#c6a456" stroke-width="0.05" textLength="13.2" lengthAdjust="spacingAndGlyphs">H</text>
<circle cx="657.1" cy="411.2" r="8.3" fill="none" stroke="#c6a456" stroke-width="1.9"/>
<circle cx="657.1" cy="411.2" r="6.4" fill="#e7e0cd"/>
<g fill="none" stroke="#c4b287" stroke-width="0.45"><circle cx="657.6" cy="411.6" r="1.2"/><circle cx="657.6" cy="411.6" r="2.4"/><circle cx="657.6" cy="411.6" r="3.6"/><circle cx="657.6" cy="411.6" r="4.8"/></g>
<text x="579.7" y="433" font-size="7" fill="#c6a456" font-weight="bold" textLength="104.2" lengthAdjust="spacing">CONSULTING</text>
<text x="584.8" y="441.8" font-size="5.2" fill="#c6a456" stroke="#c6a456" stroke-width="0.1" textLength="94.3" lengthAdjust="spacing">www.midastouch-consulting.com</text>
<line x1="6" y1="394.5" x2="721" y2="394.5" stroke="#f23645" stroke-width="1.3" stroke-dasharray="1.4,1.9"/>
<line x1="6" y1="447.7" x2="721" y2="447.7" stroke="#5fd35f" stroke-width="1.3" stroke-dasharray="1.4,1.9"/>
<polyline points="5.8,460.4 7.8,461 13.6,445.8 19.4,429.9 22.3,434.2 28.8,461 34,436.1 36.9,405 39.8,391 42.8,396.3 50.1,382.1 56.4,381.3 62.2,384 66.1,382.7 70,379.8 77.7,380.2 85.5,382.1 92.3,380.7 97.2,386.6 101,401.1 105.9,403.1 111.7,408.9 120.1,440 123.4,439 129.9,420.6 133.7,399.2 136.3,395.3 139.6,399.2 144.4,410.9 151.2,456.5 156.1,457.5 160,459.4 163.9,455.6 167.8,454 173.6,461 181.4,449.7 189.1,408 192,403.1 197.3,408.9 200.8,399.2 204.7,390.5 208.6,403.1 213.4,411.8 216.3,405 220.2,408 226,459.4 230.9,455.6 237.7,441 241.6,442.9 249.4,428.4 252.9,428.4 257.8,422.5 263.6,387.5 269.4,378.2 274.3,380.7 280.1,382.7 286,399.2 288.9,399.2 291.8,398.2 296.6,407 301.5,413.8 307.3,455.6 313.2,456.5 318,462.4 327.7,458.5 336.5,452.6 345.2,395.3 350.1,383.7 355.9,382.1 362.7,387.5 374.4,443.9 378.9,454.4 383.8,457.3 388.7,455.3 395.6,434.7 400.5,428.9 406.8,411.2 411.3,424.9 416.2,446.5 422.1,459.3 427.9,456.3 433.8,440.6 438.7,430.4 441.7,429.8 449.5,402.4 452.5,401.4 457.4,390.6 460.3,391.2 465.2,399.5 468.1,405.3 472.1,404.4 477,405.3 481.9,422 484.8,421 488.7,424.9 497.5,451.4" fill="none" stroke="#62c168" stroke-width="1.15" stroke-linejoin="round"/>
<path d="M5.8,456 C6.3,456.5 7.2,459.7 8.7,459 C10.2,458.3 12.4,456.0 14.6,451.7 C16.8,447.4 20.2,435.8 21.8,433.2 C23.4,430.6 22.8,432.4 24.3,436.1 C25.8,439.8 28.9,454.2 30.7,455.2 C32.5,456.2 33.1,451.8 35,442 C36.9,432.2 39.9,404.7 41.8,396.3 C43.7,387.9 44.3,393.7 46.6,391.4 C48.9,389.1 52.5,384.0 55.4,382.7 C58.3,381.4 61.0,384.1 64.1,383.7 C67.2,383.3 70.2,380.6 73.8,380.2 C77.4,379.8 82.2,381.1 85.5,381.3 C88.8,381.6 91.0,380.3 93.3,381.7 C95.6,383.1 97.2,386.4 99.1,389.5 C101.0,392.6 103.0,397.4 104.9,400.2 C106.9,402.9 107.5,399.7 110.8,406 C114.0,412.3 121.1,434.4 124.4,438.1 C127.7,441.8 128.6,435.2 130.8,428.4 C133.0,421.6 135.5,401.0 137.6,397.3 C139.7,393.6 140.9,396.9 143.5,406 C146.1,415.1 150.8,443.1 153.2,451.7 C155.6,460.3 155.6,456.8 158,457.5 C160.4,458.2 165.0,455.6 167.8,455.9 C170.7,456.2 172.8,459.8 175.1,459.4 C177.4,459.0 178.6,462.0 181.4,453.6 C184.2,445.2 189.2,416.8 192,408.9 C194.8,401.0 195.6,408.3 197.9,406 C200.2,403.7 202.8,395.0 205.6,395.3 C208.3,395.6 211.8,405.1 214.4,408 C217.0,410.9 218.6,404.7 221.2,412.8 C223.8,420.9 227.6,450.4 230,456.5 C232.4,462.6 233.9,452.0 235.8,449.7 C237.7,447.4 240.0,444.2 241.6,442.9 C243.2,441.6 244.1,443.3 245.5,442 C246.9,440.7 247.9,438.1 250,435.2 C252.1,432.3 255.2,430.8 257.8,424.5 C260.4,418.2 262.9,404.7 265.5,397.3 C268.1,389.9 271.0,382.8 273.3,380.2 C275.6,377.6 277.3,380.5 279.1,381.7 C280.9,382.9 282.4,384.9 284,387.5 C285.6,390.1 287.1,395.2 288.9,397.3 C290.7,399.4 292.6,397.9 294.7,400.2 C296.8,402.5 298.9,401.8 301.5,410.9 C304.1,420.0 307.8,446.7 310.2,454.6 C312.6,462.5 314.0,457.2 316.1,458.5 C318.2,459.8 319.7,462.9 322.9,462.4 C326.1,461.9 332.4,460.0 335.5,455.6 C338.6,451.2 339.0,446.2 341.3,436.1 C343.6,426.1 346.8,404.1 349.1,395.3 C351.4,386.5 352.8,385.1 354.9,383.3 C357.0,381.5 359.4,381.3 361.7,384.6 C364.0,387.9 366.3,395.7 368.5,403.1 C370.7,410.5 373.1,421.0 375,428.9 C376.9,436.8 378.1,445.7 379.9,450.4 C381.7,455.1 384.0,456.6 385.8,457.3 C387.6,458.0 388.8,457.5 390.7,454.4 C392.6,451.3 395.4,443.4 397.5,438.7 C399.6,433.9 401.5,430.0 403.4,425.9 C405.3,421.8 406.9,413.0 408.7,414.2 C410.5,415.4 412.5,427.1 414.2,432.8 C415.9,438.5 417.3,444.4 419.1,448.5 C420.9,452.6 423.2,456.4 425,457.7 C426.8,459.0 428.1,458.0 429.9,456.3 C431.7,454.6 433.7,451.8 435.8,447.5 C437.9,443.2 440.3,436.2 442.6,430.8 C444.9,425.4 447.4,420.7 449.5,415.1 C451.6,409.6 453.8,401.4 455.4,397.5 C457.0,393.6 457.7,391.4 459.3,391.6 C460.9,391.8 463.2,396.2 465.2,398.5 C467.2,400.8 469.0,404.0 471.1,405.3 C473.2,406.6 475.8,404.5 477.9,406.3 C480.0,408.1 482.0,413.2 483.8,416.1 C485.6,419.1 486.4,418.9 488.7,424 C491.0,429.1 496.0,442.8 497.5,446.5" fill="none" stroke="#f0514a" stroke-width="1.1"/>
<circle cx="433.5" cy="447.6" r="8.4" fill="#3aa64a" fill-opacity="0.13" stroke="#3dba4c" stroke-width="1.5"/>
<circle cx="463.6" cy="392.9" r="8.4" fill="#c9605a" fill-opacity="0.15" stroke="#ec5a3e" stroke-width="1.5"/>
<circle cx="504" cy="450.4" r="8.4" fill="#8fd88f" fill-opacity="0.18" stroke="#bde8bd" stroke-width="1.3"/>
</g>
<text x="10.2" y="26.4" font-size="7.7" fill="#5d606b" textLength="94.6" lengthAdjust="spacingAndGlyphs" stroke="#5d606b" stroke-width="0.15">Silver / U.S. Dollar, 1D, OANDA</text>
<text x="109.9" y="26.4" font-size="7.7" stroke="#5d606b" stroke-width="0.15" textLength="35.19999999999999" lengthAdjust="spacingAndGlyphs"><tspan fill="#5d606b" stroke="#5d606b">O</tspan><tspan fill="#7d3c3c" stroke="#7d3c3c">22.63500</tspan></text>
<text x="149.6" y="26.4" font-size="7.7" stroke="#5d606b" stroke-width="0.15" textLength="34.0" lengthAdjust="spacingAndGlyphs"><tspan fill="#5d606b" stroke="#5d606b">H</tspan><tspan fill="#7d3c3c" stroke="#7d3c3c">22.74050</tspan></text>
<text x="188.7" y="26.4" font-size="7.7" stroke="#5d606b" stroke-width="0.15" textLength="33.10000000000002" lengthAdjust="spacingAndGlyphs"><tspan fill="#5d606b" stroke="#5d606b">L</tspan><tspan fill="#7d3c3c" stroke="#7d3c3c">22.19350</tspan></text>
<text x="226.3" y="26.4" font-size="7.7" stroke="#5d606b" stroke-width="0.15" textLength="33.69999999999999" lengthAdjust="spacingAndGlyphs"><tspan fill="#5d606b" stroke="#5d606b">C</tspan><tspan fill="#7d3c3c" stroke="#7d3c3c">22.25400</tspan></text>
<text x="265.4" y="26.4" font-size="7.7" fill="#7d3c3c" textLength="60.1" lengthAdjust="spacingAndGlyphs" stroke="#7d3c3c" stroke-width="0.15">−0.38100 (−1.68%)</text>
<text x="10.2" y="35.8" font-size="7.7" fill="#5d606b" textLength="58.5" lengthAdjust="spacingAndGlyphs" stroke="#5d606b" stroke-width="0.15">BB (20, close, 2, 0)</text>
<text x="74.5" y="35.8" font-size="7.7" fill="#2b3bff" textLength="29" lengthAdjust="spacingAndGlyphs" stroke="#2b3bff" stroke-width="0.15">23.40088</text>
<text x="109.9" y="35.8" font-size="7.7" fill="#2b3bff" textLength="28.6" lengthAdjust="spacingAndGlyphs" stroke="#2b3bff" stroke-width="0.15">22.35287</text>
<text x="10.2" y="45.2" font-size="7.7" fill="#5d606b" textLength="97.3" lengthAdjust="spacingAndGlyphs" stroke="#5d606b" stroke-width="0.15">SMA (200, close, 0, SMA, 200)</text>
<text x="112" y="45.2" font-size="7.7" fill="#e91e63" textLength="29" lengthAdjust="spacingAndGlyphs" stroke="#e91e63" stroke-width="0.15">23.25376</text>
<line x1="6" y1="14.9" x2="759.5" y2="14.9" stroke="#eceef2" stroke-width="0.8"/>
<line x1="759.4" y1="15" x2="759.4" y2="484" stroke="#eceef2" stroke-width="0.8"/>
<line x1="5.7" y1="15" x2="5.7" y2="484" stroke="#eceef2" stroke-width="0.8"/>
<line x1="6" y1="484" x2="759.5" y2="484" stroke="#eceef2" stroke-width="0.8"/>
<rect x="721" y="15" width="38.5" height="469" fill="#ffffff"/>
<text x="724.6" y="51.79999999999998" font-size="7.1" fill="#707379" textLength="28.9" lengthAdjust="spacingAndGlyphs" stroke="#707379" stroke-width="0.05">26.00000</text>
<text x="724.6" y="77.1" font-size="7.1" fill="#707379" textLength="28.9" lengthAdjust="spacingAndGlyphs" stroke="#707379" stroke-width="0.05">25.50000</text>
<text x="724.6" y="102.39999999999999" font-size="7.1" fill="#707379" textLength="28.9" lengthAdjust="spacingAndGlyphs" stroke="#707379" stroke-width="0.05">25.00000</text>
<text x="724.6" y="127.69999999999999" font-size="7.1" fill="#707379" textLength="28.9" lengthAdjust="spacingAndGlyphs" stroke="#707379" stroke-width="0.05">24.50000</text>
<text x="724.6" y="153.0" font-size="7.1" fill="#707379" textLength="28.9" lengthAdjust="spacingAndGlyphs" stroke="#707379" stroke-width="0.05">24.00000</text>
<text x="724.6" y="178.29999999999998" font-size="7.1" fill="#707379" textLength="28.9" lengthAdjust="spacingAndGlyphs" stroke="#707379" stroke-width="0.05">23.50000</text>
<text x="724.6" y="203.6" font-size="7.1" fill="#707379" textLength="28.9" lengthAdjust="spacingAndGlyphs" stroke="#707379" stroke-width="0.05">23.00000</text>
<text x="724.6" y="228.9" font-size="7.1" fill="#707379" textLength="28.9" lengthAdjust="spacingAndGlyphs" stroke="#707379" stroke-width="0.05">22.50000</text>
<text x="724.6" y="254.2" font-size="7.1" fill="#707379" textLength="28.9" lengthAdjust="spacingAndGlyphs" stroke="#707379" stroke-width="0.05">22.00000</text>
<text x="724.6" y="279.5" font-size="7.1" fill="#707379" textLength="28.9" lengthAdjust="spacingAndGlyphs" stroke="#707379" stroke-width="0.05">21.50000</text>
<text x="724.6" y="304.8" font-size="7.1" fill="#707379" textLength="28.9" lengthAdjust="spacingAndGlyphs" stroke="#707379" stroke-width="0.05">21.00000</text>
<text x="724.6" y="330.1" font-size="7.1" fill="#707379" textLength="28.9" lengthAdjust="spacingAndGlyphs" stroke="#707379" stroke-width="0.05">20.50000</text>
<text x="724.6" y="355.4" font-size="7.1" fill="#707379" textLength="28.9" lengthAdjust="spacingAndGlyphs" stroke="#707379" stroke-width="0.05">20.00000</text>
<text x="724.6" y="379.5" font-size="7.1" fill="#707379" textLength="32.5" lengthAdjust="spacingAndGlyphs" stroke="#707379" stroke-width="0.05">100.00000</text>
<text x="724.6" y="397.08" font-size="7.1" fill="#707379" textLength="28.9" lengthAdjust="spacingAndGlyphs" stroke="#707379" stroke-width="0.05">80.00000</text>
<text x="724.6" y="414.65999999999997" font-size="7.1" fill="#707379" textLength="28.9" lengthAdjust="spacingAndGlyphs" stroke="#707379" stroke-width="0.05">60.00000</text>
<text x="724.6" y="432.24" font-size="7.1" fill="#707379" textLength="28.9" lengthAdjust="spacingAndGlyphs" stroke="#707379" stroke-width="0.05">40.00000</text>
<clipPath id="z0"><rect x="721" y="455" width="38" height="11.8"/></clipPath>
<g clip-path="url(#z0)"><text x="724.6" y="469.3" font-size="7.1" fill="#707379" textLength="25" lengthAdjust="spacingAndGlyphs" stroke="#707379" stroke-width="0.05">0.00000</text></g>
<path d="M720.5,37.8 H755 Q756.8,37.8 756.8,39.6 V45.0 Q756.8,46.8 755,46.8 H720.5 Z" fill="#f23645"/>
<text x="725" y="44.8" font-size="6.9" fill="#ffffff" textLength="28.5" lengthAdjust="spacingAndGlyphs" stroke="#ffffff" stroke-width="0.15">26.13540</text>
<path d="M720.5,174.9 H755 Q756.8,174.9 756.8,176.7 V182.1 Q756.8,183.9 755,183.9 H720.5 Z" fill="#1414ff"/>
<text x="725" y="181.9" font-size="6.9" fill="#ffffff" textLength="28.5" lengthAdjust="spacingAndGlyphs" stroke="#ffffff" stroke-width="0.15">23.40088</text>
<path d="M720.5,183.9 H755 Q756.8,183.9 756.8,185.7 V191.1 Q756.8,192.9 755,192.9 H720.5 Z" fill="#e91e63"/>
<text x="725" y="190.9" font-size="6.9" fill="#ffffff" textLength="28.5" lengthAdjust="spacingAndGlyphs" stroke="#ffffff" stroke-width="0.15">23.25376</text>
<path d="M720.5,225.3 H755 Q756.8,225.3 756.8,227.1 V232.5 Q756.8,234.3 755,234.3 H720.5 Z" fill="#1414ff"/>
<text x="725" y="232.3" font-size="6.9" fill="#ffffff" textLength="28.5" lengthAdjust="spacingAndGlyphs" stroke="#ffffff" stroke-width="0.15">22.35287</text>
<path d="M720.5,234.3 H755 Q756.8,234.3 756.8,236.1 V241.5 Q756.8,243.3 755,243.3 H720.5 Z" fill="#e00d0d"/>
<text x="725" y="241.3" font-size="6.9" fill="#ffffff" textLength="28.5" lengthAdjust="spacingAndGlyphs" stroke="#ffffff" stroke-width="0.15">22.25400</text>
<path d="M720.5,313.3 H755 Q756.8,313.3 756.8,315.1 V320.5 Q756.8,322.3 755,322.3 H720.5 Z" fill="#169c8c"/>
<text x="725" y="320.3" font-size="6.9" fill="#ffffff" textLength="28.5" lengthAdjust="spacingAndGlyphs" stroke="#ffffff" stroke-width="0.15">20.68700</text>
<path d="M720.5,353.0 H755 Q756.8,353.0 756.8,354.8 V360.2 Q756.8,362.0 755,362.0 H720.5 Z" fill="#169c8c"/>
<text x="725" y="360.0" font-size="6.9" fill="#ffffff" textLength="28.5" lengthAdjust="spacingAndGlyphs" stroke="#ffffff" stroke-width="0.15">19.90210</text>
<path d="M720.5,438.5 H755 Q756.8,438.5 756.8,440.3 V445.7 Q756.8,447.5 755,447.5 H720.5 Z" fill="#ff1010"/>
<text x="725" y="445.5" font-size="6.9" fill="#ffffff" textLength="28.5" lengthAdjust="spacingAndGlyphs" stroke="#ffffff" stroke-width="0.15">20.58328</text>
<path d="M720.5,447.5 H755 Q756.8,447.5 756.8,449.3 V454.7 Q756.8,456.5 755,456.5 H720.5 Z" fill="#22a83c"/>
<text x="725" y="454.5" font-size="6.9" fill="#ffffff" textLength="28.5" lengthAdjust="spacingAndGlyphs" stroke="#ffffff" stroke-width="0.15">15.62810</text>
<rect x="722.5" y="17.3" width="34.5" height="14.3" rx="2.5" fill="#fff" stroke="#eeeff2" stroke-width="0.8"/>
<text x="727.9" y="26.6" font-size="6.3" fill="#3a3d45" textLength="12" lengthAdjust="spacingAndGlyphs" stroke="#3a3d45" stroke-width="0.15">USD</text>
<line x1="6" y1="373.8" x2="759" y2="373.8" stroke="#e3e5e9" stroke-width="0.9"/>
<line x1="6" y1="469.2" x2="759" y2="469.2" stroke="#b8bac0" stroke-width="1.6"/>
<line x1="720.6" y1="15" x2="720.6" y2="484" stroke="#6b6e76" stroke-width="1"/>
<text x="11.7" y="479.3" font-size="7.0" fill="#74777d" text-anchor="middle" stroke="#74777d" stroke-width="0.05">Mar</text>
<text x="73" y="479.3" font-size="7.0" fill="#74777d" text-anchor="middle" stroke="#74777d" stroke-width="0.05">Apr</text>
<text x="124.5" y="479.3" font-size="7.0" fill="#74777d" text-anchor="middle" stroke="#74777d" stroke-width="0.05">May</text>
<text x="187" y="479.3" font-size="7.0" fill="#74777d" text-anchor="middle" stroke="#74777d" stroke-width="0.05">Jun</text>
<text x="245" y="479.3" font-size="7.0" fill="#74777d" text-anchor="middle" stroke="#74777d" stroke-width="0.05">Jul</text>
<text x="301.5" y="479.3" font-size="7.0" fill="#74777d" text-anchor="middle" stroke="#74777d" stroke-width="0.05">Aug</text>
<text x="363.6" y="479.3" font-size="7.0" fill="#74777d" text-anchor="middle" stroke="#74777d" stroke-width="0.05">Sep</text>
<text x="420" y="479.3" font-size="7.0" fill="#74777d" text-anchor="middle" stroke="#74777d" stroke-width="0.05">Oct</text>
<text x="479" y="479.3" font-size="7.0" fill="#74777d" text-anchor="middle" stroke="#74777d" stroke-width="0.05">Nov</text>
<text x="538.4" y="479.3" font-size="7.0" fill="#74777d" text-anchor="middle" stroke="#74777d" stroke-width="0.05">Dec</text>
<text x="594.8" y="479.3" font-size="7.0" fill="#5d6067" text-anchor="middle" font-weight="bold">2024</text>
<text x="656.6" y="479.3" font-size="7.0" fill="#74777d" text-anchor="middle" stroke="#74777d" stroke-width="0.05">Feb</text>
<text x="712.9" y="479.3" font-size="7.0" fill="#74777d" text-anchor="middle" stroke="#74777d" stroke-width="0.05">Mar</text>
<g fill="#131722"><rect x="5.3" y="491.2" width="5.1" height="2.2"/><rect x="8.3" y="491.2" width="2.1" height="5.2"/><circle cx="12.1" cy="492.3" r="1.05"/><polygon points="13.2,491.2 16.4,491.2 14.2,496.4 11.8,496.4"/></g>
<text x="19.2" y="496.5" font-size="7.2" fill="#1e222d" textLength="40.5" lengthAdjust="spacingAndGlyphs" stroke="#1e222d" stroke-width="0.15">TradingView</text>
</svg>
</body></html>
